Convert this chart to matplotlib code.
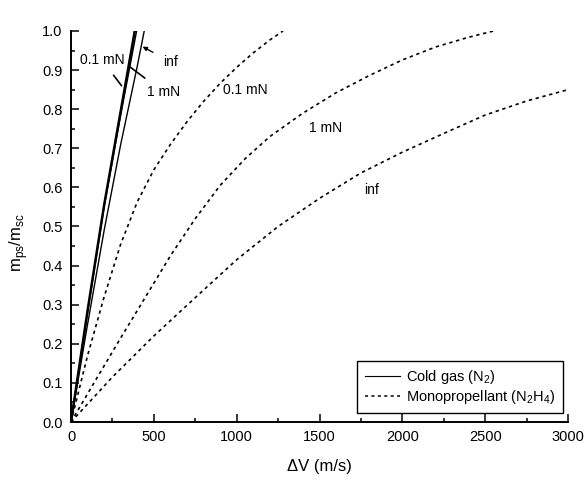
import numpy as np
import matplotlib
matplotlib.use("Agg")
import matplotlib.pyplot as plt
from matplotlib.ticker import MultipleLocator

plt.rcParams['font.family'] = ['Liberation Sans', 'DejaVu Sans']
plt.rcParams['mathtext.fontset'] = 'custom'
plt.rcParams['mathtext.rm'] = 'Liberation Sans'

## data ##
# cold gas (N2), solid lines
cg_01_dv = [0, 100, 200, 300, 385]
cg_01_r = [0, 0.285, 0.555, 0.795, 1.0]
cg_1_dv = [0, 100, 200, 300, 396]
cg_1_r = [0, 0.28, 0.55, 0.785, 1.0]
cg_inf_dv = [0, 100, 200, 300, 400, 442]
cg_inf_r = [0, 0.25, 0.49, 0.71, 0.91, 1.0]

# monopropellant (N2H4), dashed lines
mp_01_dv = [0, 100, 200, 300, 400, 500, 600, 700, 800, 900, 1000, 1100, 1200, 1280]
mp_01_r = [0, 0.17, 0.32, 0.455, 0.563, 0.645, 0.71, 0.768, 0.82, 0.866, 0.907, 0.944, 0.977, 1.0]
mp_1_dv = [0, 150, 300, 450, 600, 750, 900, 1050, 1200, 1400, 1600, 1800, 2000, 2200, 2400, 2550]
mp_1_r = [0, 0.108, 0.215, 0.32, 0.425, 0.52, 0.605, 0.673, 0.73, 0.79, 0.842, 0.886, 0.926, 0.959, 0.984, 1.0]
mp_inf_dv = [0, 250, 500, 750, 1000, 1250, 1500, 1750, 2000, 2250, 2500, 2750, 3000]
mp_inf_r = [0, 0.115, 0.22, 0.318, 0.415, 0.5, 0.572, 0.637, 0.69, 0.738, 0.785, 0.821, 0.85]

dash = (0, (2, 2.2))

fig = plt.figure(figsize=(5.88, 4.88), dpi=100)
ax = fig.add_axes([71/588, 1-422/488, 497/588, 391/488])

ax.plot(cg_01_dv, cg_01_r, color='k', lw=1.8)
ax.plot(cg_1_dv, cg_1_r, color='k', lw=1.0)
ax.plot(cg_inf_dv, cg_inf_r, color='k', lw=1.0)
ax.plot(mp_01_dv, mp_01_r, color='k', lw=1.2, ls=dash)
ax.plot(mp_1_dv, mp_1_r, color='k', lw=1.2, ls=dash)
ax.plot(mp_inf_dv, mp_inf_r, color='k', lw=1.2, ls=dash)

# legend proxies
ax.plot([], [], color='k', lw=0.8, label='Cold gas (N$_2$)')
ax.plot([], [], color='k', lw=1.1, ls=dash, label='Monopropellant (N$_2$H$_4$)')

# curve labels
fs = 10
ax.annotate('0.1 mN', xy=(305, 0.86), xytext=(187, 0.926), fontsize=fs,
            ha='center', va='center',
            arrowprops=dict(arrowstyle='-', color='k', lw=1.2, shrinkA=5, shrinkB=0))
ax.annotate('1 mN', xy=(350, 0.91), xytext=(558, 0.844), fontsize=fs,
            ha='center', va='center',
            arrowprops=dict(arrowstyle='-', color='k', lw=1.2, shrinkA=5, shrinkB=0))
ax.annotate('inf', xy=(432, 0.96), xytext=(600, 0.921), fontsize=fs,
            ha='center', va='center',
            arrowprops=dict(arrowstyle='-|>', color='k', lw=1.0, mutation_scale=6,
                            shrinkA=6, shrinkB=0))
ax.text(1050, 0.849, '0.1 mN', fontsize=fs, ha='center', va='center')
ax.text(1539, 0.752, '1 mN', fontsize=fs, ha='center', va='center')
ax.text(1817, 0.593, 'inf', fontsize=fs, ha='center', va='center')

ax.set_xlim(0, 3000)
ax.set_ylim(0, 1.0)
ax.xaxis.set_major_locator(MultipleLocator(500))
ax.xaxis.set_minor_locator(MultipleLocator(250))
ax.yaxis.set_major_locator(MultipleLocator(0.1))
ax.yaxis.set_minor_locator(MultipleLocator(0.05))
ax.yaxis.set_major_formatter(matplotlib.ticker.FormatStrFormatter('%.1f'))
ax.tick_params(which='both', direction='in', labelsize=10.5, width=1.1, pad=6)
ax.tick_params(which='major', length=6)
ax.tick_params(which='minor', length=3)

ax.spines['top'].set_visible(False)
ax.spines['right'].set_visible(False)
ax.spines['left'].set_linewidth(1.4)
ax.spines['bottom'].set_linewidth(1.4)

ax.set_xlabel('ΔV (m/s)', fontsize=12)
ax.xaxis.set_label_coords(0.5, -0.095)
ax.set_ylabel(r'm$_{\mathregular{ps}}$/m$_{\mathregular{sc}}$', fontsize=12)
ax.yaxis.set_label_coords(-0.083, 0.46)

leg = ax.legend(loc='lower right', bbox_to_anchor=(0.99, 0.023), fontsize=10.5,
                frameon=True, fancybox=False, edgecolor='k', framealpha=1,
                handlelength=2.45, handletextpad=0.4, borderaxespad=0,
                borderpad=0.5, labelspacing=0.1)
leg.get_frame().set_linewidth(1.0)

fig.savefig('out.png', dpi=100)
